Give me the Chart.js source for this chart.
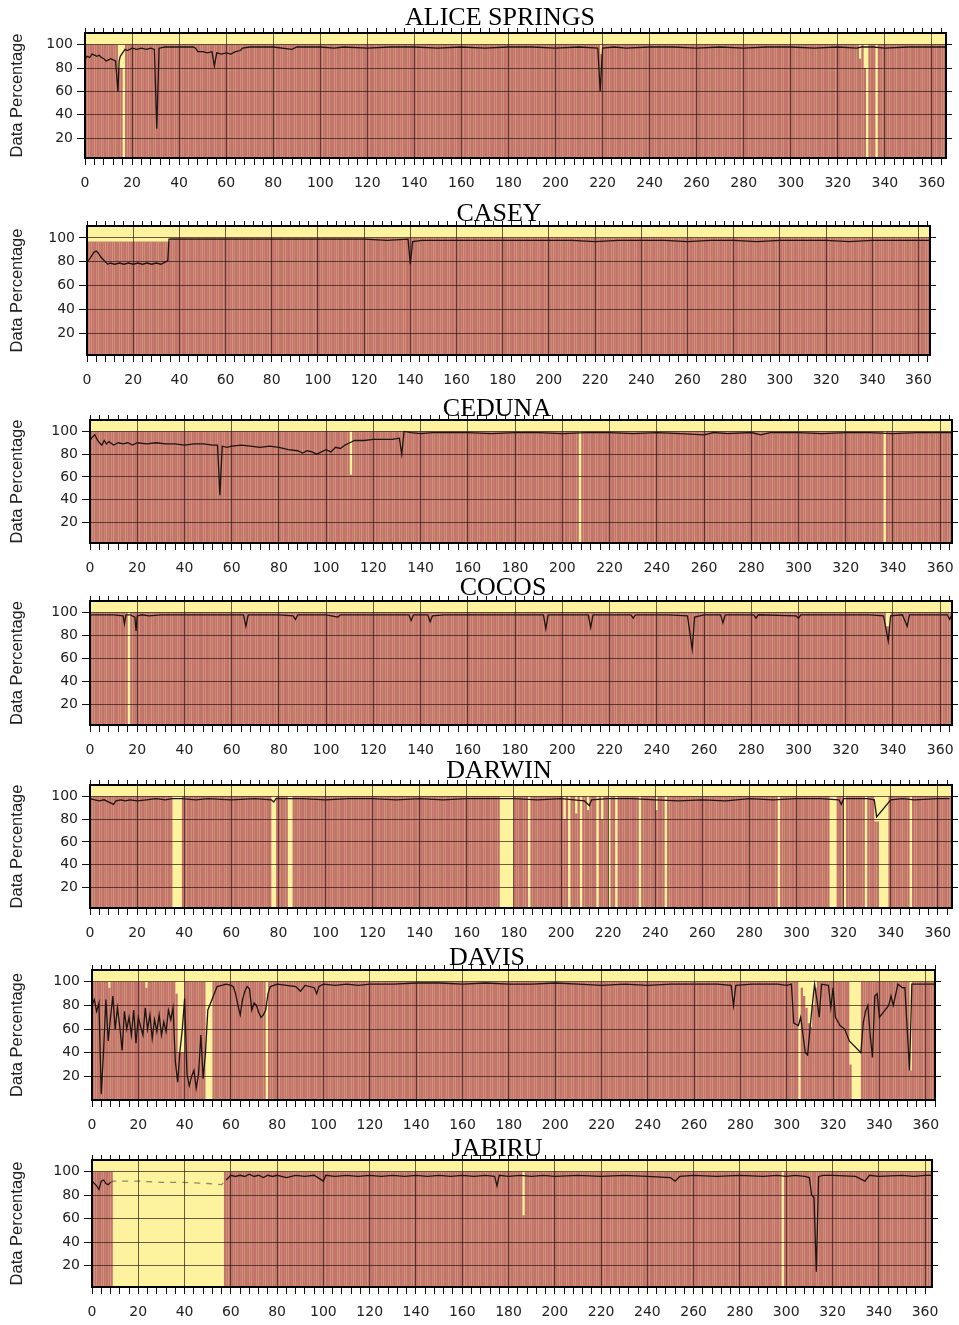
<!DOCTYPE html>
<html>
<head>
<meta charset="utf-8">
<script src="https://cdn.jsdelivr.net/npm/chart.js@4.4.1/dist/chart.umd.min.js"></script>
<style>
  body { margin: 0; background: #fff; }
  #wrap { position: relative; width: 959px; height: 1325px; overflow: hidden; }
  .panel { position: absolute; left: 0; }
  .title {
    position: absolute; transform: translate(-50%, -50%);
    font-family: "Liberation Serif", "DejaVu Serif", serif; font-size: 26px;
    color: #000; white-space: nowrap; z-index: 2; line-height: 1;
  }
</style>
</head>
<body>
<div id="wrap"></div>
<script>
// ---- data ----
// line: [day, data percentage]; gaps: [firstDay, lastDay, bar height] (0 = no data that day)
const STATIONS = ['ALICE SPRINGS', 'CASEY', 'CEDUNA', 'COCOS', 'DARWIN', 'DAVIS', 'JABIRU'];
const X_TICKS = [0, 20, 40, 60, 80, 100, 120, 140, 160, 180, 200, 220, 240, 260, 280, 300, 320, 340, 360];
const Y_TICKS = [20, 40, 60, 80, 100];

const aliceLine = [[0,88],[1,90],[2,89],[3,92],[4,91],[5,90],[6,91],[7,89],[8,88],[9,86],[10,87],[11,88],[12,87],[13,86],[14,60],[14.5,86],[15,90],[17,96],[18,95],[20,97],[22,96],[24,97],[26,96],[28,97],[29.5,96],[30.5,28],[31.5,97],[34,98],[38,98],[42,98],[46,98],[47,97],[48,94],[50,94],[52,93],[54,94],[55,82],[56,93],[58,92],[60,93],[62,92],[64,94],[66,95],[67,97],[70,98],[80,98],[88,96],[90,98],[100,98],[106,97],[110,98],[120,97],[130,98],[140,98],[150,97],[160,98],[170,97],[180,98],[190,98],[200,97],[210,98],[218,97],[219,60],[220,97],[225,98],[230,97],[240,98],[250,98],[260,97],[270,98],[280,97],[290,98],[300,98],[310,97],[320,98],[328,97],[330,98],[335,98],[340,97],[350,98],[360,98],[366,98]];
const aliceGaps = [[14,15,80],[16,16,0],[219,219,92],[329,329,88],[331,332,80],[332,332,0],[336,336,0]];

const caseyLine = [[0,80],[1,82],[2,85],[3,88],[4,89],[5,87],[6,84],[7,82],[8,80],[9,78],[10,79],[12,78],[14,79],[16,78],[18,79],[20,78],[22,79],[24,78],[26,79],[28,78],[30,79],[32,78],[34,80],[35,81],[35.5,99],[40,99],[50,99],[60,99],[70,99],[80,99],[90,99],[100,99],[110,99],[120,99],[130,98],[139,99],[140,78],[141,97],[145,98],[150,98],[160,98],[170,98],[180,98],[190,98],[200,98],[210,98],[220,97],[230,98],[240,98],[250,98],[260,97],[270,98],[280,98],[290,97],[300,98],[310,98],[320,98],[330,97],[340,98],[350,98],[360,98],[365,98]];
const caseyGaps = [[0,35,97]];

const cedunaLine = [[0,92],[1,95],[2,97],[3,93],[4,90],[5,88],[6,92],[7,89],[8,91],[10,88],[12,90],[14,89],[16,90],[18,88],[20,90],[24,89],[28,90],[32,89],[36,89],[40,88],[44,89],[48,89],[52,88],[54,88],[55,44],[56,87],[58,86],[60,87],[64,88],[68,87],[72,86],[76,87],[80,86],[84,84],[88,83],[90,81],[92,83],[94,82],[96,80],[98,82],[100,84],[102,82],[104,86],[106,85],[108,88],[110,90],[112,92],[116,92],[120,93],[124,93],[128,93],[131,94],[132,80],[133,100],[136,99],[140,98],[145,99],[150,99],[160,99],[170,98],[180,99],[190,99],[200,98],[210,99],[220,99],[230,98],[240,99],[250,98],[260,97],[264,99],[270,98],[280,99],[284,97],[288,99],[300,99],[310,98],[320,99],[330,99],[340,98],[350,99],[360,99],[365,99]];
const cedunaGaps = [[110,110,62],[207,207,0],[336,336,0]];

const cocosLine = [[0,98],[10,98],[14,97],[14.6,90],[15.2,98],[17,98],[19,96],[19.5,84],[20,97],[22,98],[25,97],[30,98],[40,98],[50,98],[60,98],[65,98],[66,88],[67,98],[80,98],[86,97],[87,94],[88,98],[100,98],[105,96],[106,98],[120,98],[135,98],[136,93],[137,98],[143,98],[144,92],[145,97],[150,98],[160,98],[170,98],[180,98],[192,98],[193,86],[194,98],[205,98],[211,98],[212,87],[213,98],[229,98],[230,95],[231,98],[245,98],[253,97],[255,68],[256,96],[260,98],[267,98],[268,91],[269,98],[281,98],[282,95],[283,98],[299,97],[300,95],[301,98],[320,98],[330,98],[336,97],[338,75],[339,97],[344,98],[346,88],[347,98],[355,98],[363,98],[364,94],[365,98]];
const cocosGaps = [[16,16,0],[337,338,88]];

const darwinLine = [[0,98],[2,97],[4,96],[6,97],[8,95],[10,93],[11,96],[13,97],[15,96],[17,97],[20,96],[24,97],[28,98],[32,97],[35,98],[39,98],[45,97],[50,98],[60,97],[70,98],[77,97],[78,95],[79,98],[90,98],[100,97],[110,98],[120,98],[130,97],[140,98],[150,97],[160,98],[170,98],[174,98],[180,98],[190,97],[200,98],[210,96],[212,92],[213,97],[220,98],[230,98],[240,97],[250,96],[260,97],[270,96],[280,98],[290,97],[300,98],[310,98],[318,97],[319,93],[320,98],[330,98],[333,97],[334,82],[340,97],[345,98],[350,97],[360,98],[365,98]];
const darwinGaps = [[35,38,0],[77,78,0],[84,85,0],[174,179,0],[186,186,0],[201,201,80],[203,203,0],[206,206,85],[208,208,0],[211,211,88],[215,215,0],[217,217,80],[220,220,0],[223,223,0],[233,233,0],[240,240,88],[244,244,0],[292,292,0],[314,316,0],[320,320,0],[329,329,0],[333,334,78],[335,338,0],[348,348,0]];

const davisLine = [[0,80],[1,85],[2,75],[3,82],[4,5],[5,42],[6,85],[7,50],[8,70],[9,88],[10,60],[11,78],[12,62],[13,42],[14,75],[15,60],[16,70],[17,55],[18,76],[19,48],[20,70],[21,62],[22,55],[23,78],[24,60],[25,72],[26,52],[27,68],[28,58],[29,72],[30,55],[31,66],[32,58],[33,76],[34,68],[35,78],[36,32],[37,15],[38,42],[39,60],[40,86],[41,22],[42,12],[43,20],[44,25],[45,10],[46,22],[47,55],[48,18],[49,40],[50,76],[54,96],[56,97],[58,98],[60,97],[61,96],[62,90],[63,80],[64,72],[65,85],[66,92],[67,96],[68,94],[69,76],[70,82],[71,80],[72,74],[73,70],[74,72],[75,76],[76,90],[77,96],[80,98],[84,97],[88,96],[90,92],[92,97],[96,95],[97,90],[98,96],[100,98],[105,97],[110,98],[115,97],[120,98],[130,98],[140,99],[150,99],[160,98],[170,99],[180,98],[190,98],[200,99],[210,98],[220,97],[230,98],[240,97],[250,98],[260,98],[270,98],[276,97],[277,80],[278,97],[285,98],[290,98],[296,98],[300,97],[302,98],[303,65],[305,63],[306,70],[307,55],[308,40],[309,38],[310,60],[311,80],[312,98],[313,85],[314,70],[315,98],[318,97],[319,78],[320,95],[321,70],[323,63],[325,60],[327,50],[332,40],[333,65],[334,75],[335,80],[336,55],[337,36],[338,88],[339,90],[340,70],[342,75],[344,80],[345,88],[346,80],[348,98],[350,95],[351,95],[352,60],[353,25],[354,98],[356,98],[360,98],[364,98]];
const davisGaps = [[7,7,95],[23,23,95],[36,36,90],[37,39,40],[49,51,0],[75,75,0],[305,305,0],[306,306,95],[307,307,88],[308,308,78],[309,309,65],[310,310,62],[311,311,80],[312,312,95],[327,327,30],[328,331,0],[353,353,25]];

const jabiruLine = [[0,92],[1,90],[2,88],[3,85],[4,92],[5,93],[6,90],[7,89],[8,91],[9,92],[20,92],[30,91],[40,91],[50,90],[56,89],[57,91],[58,93],[60,97],[62,96],[64,97],[66,96],[68,98],[70,96],[72,97],[74,95],[76,97],[78,96],[80,97],[84,95],[88,97],[92,96],[96,97],[100,92],[101,97],[105,96],[110,97],[115,96],[120,97],[125,96],[130,97],[135,96],[140,97],[145,96],[150,97],[155,96],[160,97],[165,96],[170,97],[174,96],[175,88],[176,97],[180,96],[185,97],[190,96],[195,97],[200,96],[210,97],[220,96],[230,97],[240,96],[250,95],[252,92],[254,96],[260,97],[270,96],[280,97],[290,96],[296,97],[300,96],[304,97],[308,96],[310,95],[311,80],[312,78],[313,15],[314,96],[316,97],[320,97],[330,96],[334,92],[336,97],[340,96],[350,97],[355,96],[360,97],[363,97]];
const jabiruGaps = [[9,56,0],[186,186,63],[298,298,0]];

const LINES = [aliceLine, caseyLine, cedunaLine, cocosLine, darwinLine, davisLine, jabiruLine];
const GAPS = [aliceGaps, caseyGaps, cedunaGaps, cocosGaps, darwinGaps, davisGaps, jabiruGaps];

// ---- layout (pixels) ----
const PANELS = [
  { left: 85, right: 946, top: 33,   bottom: 158,  xMax: 366, yMin: 3, titleX: 500, titleY: 17 },
  { left: 87, right: 930, top: 226,  bottom: 355,  xMax: 365, yMin: 2, titleX: 499, titleY: 213 },
  { left: 90, right: 952, top: 420,  bottom: 543,  xMax: 365, yMin: 2, titleX: 497, titleY: 408 },
  { left: 90, right: 952, top: 601,  bottom: 725,  xMax: 365, yMin: 2, titleX: 503, titleY: 587 },
  { left: 90, right: 952, top: 785,  bottom: 908,  xMax: 366, yMin: 2, titleX: 499, titleY: 770 },
  { left: 92, right: 935, top: 970,  bottom: 1100, xMax: 364, yMin: 0, titleX: 487, titleY: 957 },
  { left: 92, right: 932, top: 1160, bottom: 1287, xMax: 363, yMin: 2, titleX: 497, titleY: 1148 },
];

const RED = '#c2736b';
const YELLOW = '#fdf39e';
const GRID = 'rgba(35, 18, 18, 0.68)';
const TICK_FONT = { family: 'DejaVu Sans, Liberation Sans, sans-serif', size: 14 };
const TOP_H = 8, BOT_H = 42, RIGHT_W = 9;

function barHeights(gaps, xMax) {
  const out = [];
  for (let d = 0; d < xMax; d++) {
    let h = 100;
    gaps.forEach(g => { if (d >= g[0] && d <= g[1]) h = Math.min(h, g[2]); });
    out.push({ x: d + 0.5, y: h });
  }
  return out;
}

const bgPlugin = {
  id: 'bg',
  beforeDatasetsDraw(chart) {
    const a = chart.chartArea, c = chart.ctx;
    c.save();
    c.fillStyle = YELLOW;
    c.fillRect(a.left, a.top, a.right - a.left, a.bottom - a.top);
    c.restore();
  }
};

// fixed axis sizes so every plot area lands where it is in the picture
const fixSize = (key, size) => s => {
  s[key] = size;
  s.paddingLeft = s.paddingRight = s.paddingTop = s.paddingBottom = 0;
};

const wrap = document.getElementById('wrap');

STATIONS.forEach((name, i) => {
  const p = PANELS[i];
  const gaps = GAPS[i];
  const plotH = p.bottom - p.top;

  const canvas = document.createElement('canvas');
  canvas.className = 'panel';
  canvas.width = p.right + RIGHT_W;
  canvas.height = TOP_H + plotH + BOT_H;
  canvas.style.top = (p.top - TOP_H) + 'px';
  wrap.appendChild(canvas);

  const t = document.createElement('div');
  t.className = 'title';
  t.textContent = name;
  t.style.left = p.titleX + 'px';
  t.style.top = p.titleY + 'px';
  wrap.appendChild(t);

  // long gaps (no data for many days) get a dashed line across
  const longGap = (x0, x1) => gaps.some(g => g[2] === 0 && g[1] - g[0] > 10 && x0 >= g[0] - 1 && x1 <= g[1] + 2);
  const minorTicks = s => { s.ticks = []; for (let v = 0; v <= p.xMax; v += 4) s.ticks.push({ value: v }); };

  new Chart(canvas, {
    data: {
      datasets: [
        {
          type: 'line',
          data: LINES[i].map(v => ({ x: v[0], y: v[1] })),
          borderColor: '#1d1511',
          borderWidth: 1.3,
          pointRadius: 0,
          tension: 0,
          segment: {
            borderDash: ctx => longGap(ctx.p0.parsed.x, ctx.p1.parsed.x) ? [6, 6] : undefined,
            borderColor: ctx => longGap(ctx.p0.parsed.x, ctx.p1.parsed.x) ? 'rgba(60,50,30,0.55)' : undefined
          }
        },
        {
          type: 'bar',
          data: barHeights(gaps, p.xMax),
          backgroundColor: RED,
          borderWidth: 0,
          barPercentage: 1,
          categoryPercentage: 0.98
        }
      ]
    },
    options: {
      responsive: false,
      animation: false,
      devicePixelRatio: 1,
      layout: { padding: 0 },
      plugins: { legend: { display: false }, tooltip: { enabled: false } },
      scales: {
        x: {
          type: 'linear', position: 'bottom', min: 0, max: p.xMax, offset: false,
          afterBuildTicks: minorTicks,
          ticks: {
            autoSkip: false, maxRotation: 0, padding: 10, color: '#222', font: TICK_FONT,
            callback: v => X_TICKS.includes(v) ? String(v) : ''
          },
          grid: {
            z: 1, offset: false,
            color: c => (c.tick && X_TICKS.includes(c.tick.value) && c.tick.value > 0) ? GRID : 'transparent',
            tickColor: '#111', tickLength: 7, lineWidth: 1
          },
          border: { display: true, color: '#000', width: 2, z: 2 },
          afterFit: fixSize('height', BOT_H)
        },
        xTop: {
          type: 'linear', position: 'top', min: 0, max: p.xMax, offset: false,
          afterBuildTicks: minorTicks,
          ticks: { display: false },
          grid: { z: 1, offset: false, drawOnChartArea: false, tickColor: '#111', tickLength: 5 },
          border: { display: true, color: '#000', width: 2, z: 2 },
          afterFit: fixSize('height', TOP_H)
        },
        y: {
          type: 'linear', position: 'left', min: p.yMin, max: 110,
          afterBuildTicks: s => { s.ticks = Y_TICKS.map(v => ({ value: v })); },
          ticks: { padding: 4, color: '#222', font: TICK_FONT },
          grid: { z: 1, color: GRID, tickColor: '#111', tickLength: 8, lineWidth: 1 },
          border: { display: true, color: '#000', width: 2, z: 2 },
          title: {
            display: true, text: 'Data Percentage', color: '#222',
            font: { family: 'Liberation Sans, Arial, sans-serif', size: 16.5 },
            padding: { top: 8, bottom: 0 }
          },
          afterFit: fixSize('width', p.left)
        },
        yRight: {
          type: 'linear', position: 'right', min: p.yMin, max: 110,
          afterBuildTicks: s => { s.ticks = Y_TICKS.map(v => ({ value: v })); },
          ticks: { display: false },
          grid: { z: 1, drawOnChartArea: false, tickColor: '#111', tickLength: 6 },
          border: { display: true, color: '#000', width: 2, z: 2 },
          afterFit: fixSize('width', RIGHT_W)
        }
      }
    },
    plugins: [bgPlugin]
  });
});
</script>
</body>
</html>
